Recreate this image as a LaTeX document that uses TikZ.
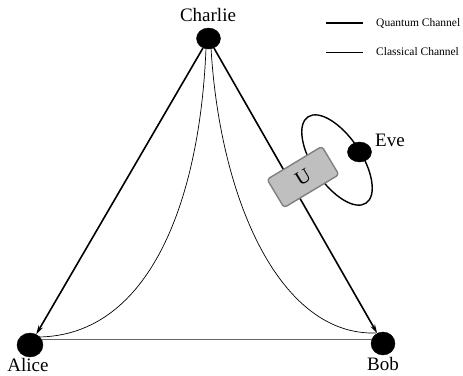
\documentclass[tikz,border=0pt]{standalone}
\usepackage{fontspec}
\setmainfont{Liberation Serif}
\newfontfamily\tnr{Liberation Serif}
\usetikzlibrary{arrows.meta,shapes.geometric}
\begin{document}
\begin{tikzpicture}[x=1pt,y=-1pt,
  party/.style={ellipse,fill=black,draw=black,inner sep=0pt,minimum width=24pt,minimum height=21pt},
  lbl/.style={font=\tnr\fontsize{19}{21}\selectfont,inner sep=0pt},
  legtext/.style={font=\tnr\fontsize{11.5}{13}\selectfont,inner sep=0pt,anchor=west},
  quantum/.style={line width=1.6pt},
  classical/.style={line width=0.7pt},
  qarrow/.style={quantum,-{Stealth[length=9pt,width=5pt]}},
  ubox/.style={draw=black!50,fill=black!25,line width=1.4pt,rounded corners=3pt,minimum width=64pt,minimum height=33pt,inner sep=0pt,font=\tnr\fontsize{20}{22}\selectfont}
]
\useasboundingbox (0,0) rectangle (463,375);
% parties
\node[party] (C) at (208.5,38.5) {};
\node[party,minimum width=26pt,minimum height=24pt] (A) at (30,345) {};
\node[party,minimum height=23pt] (B) at (383,343.5) {};
\node[party,minimum height=20pt] (E) at (359.5,152) {};
% labels
\node[lbl,anchor=base] (Cl) at (208,21) {Charlie};
\node[lbl,anchor=base] (Al) at (28,371) {Alice};
\node[lbl,anchor=base] (Bl) at (383,370) {Bob};
\node[lbl,anchor=base west] (El) at (375,146) {Eve};
% Eve orbit
\draw[line width=1.4pt,rotate around={34:(337,160)}] (337,160) ellipse [x radius=24, y radius=52];
% classical channels
\coordinate (Cs1) at (206,48);
\coordinate (Cs2) at (211,48);
\coordinate (Ae) at (38,337);
\coordinate (Be) at (376,333);
\coordinate (Ab) at (42,339.5);
\coordinate (Bb) at (372,339.5);
\draw[classical] (Cs1) .. controls (200,200) and (150,336) .. (Ae);
\draw[classical] (Cs2) .. controls (220,200) and (280,336) .. (Be);
\draw[classical,draw=black!60] (Ab) -- (Bb);
% quantum channels
\draw[qarrow] (C) -- (A);
\draw[qarrow] (C) -- (B);
% U box
\node[ubox,rotate=31] (U) at (303,177) {U};
% legend
\coordinate (q1) at (326,23);
\coordinate (q2) at (363,23);
\coordinate (c1) at (326,52);
\coordinate (c2) at (363,52);
\draw[quantum] (q1) -- (q2);
\draw[classical] (c1) -- (c2);
\node[legtext] (Ql) at (376,23) {Quantum Channel};
\node[legtext] (Cll) at (376,52) {Classical Channel};
\end{tikzpicture}
\end{document}
